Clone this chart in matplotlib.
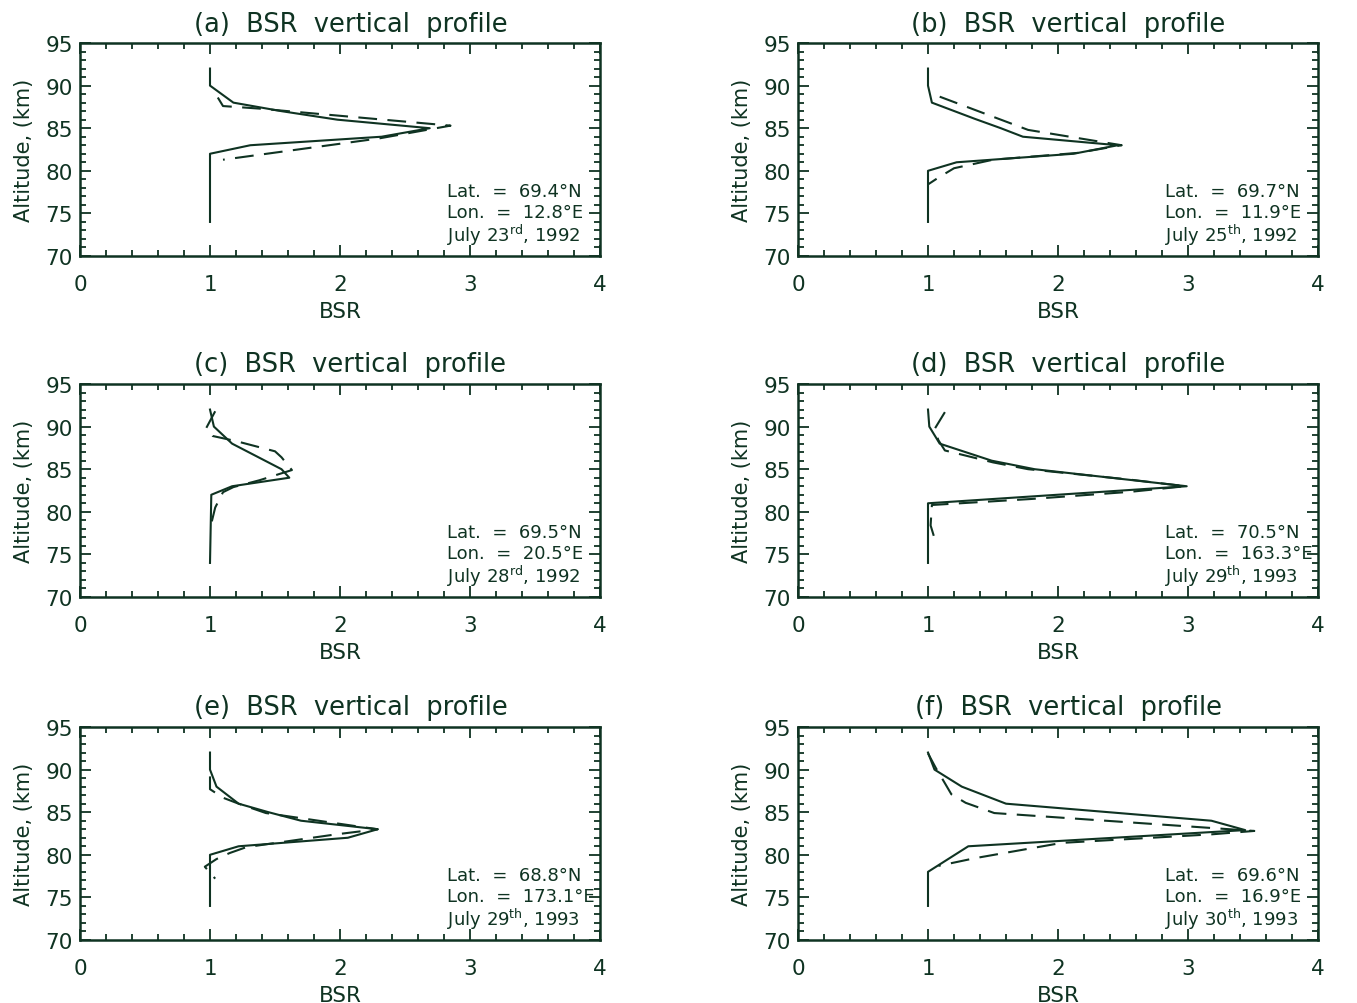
import matplotlib
matplotlib.use("Agg")
import matplotlib.pyplot as plt
from matplotlib.ticker import MultipleLocator

plt.rcParams['font.family'] = ['DejaVu Sans']
plt.rcParams['mathtext.default'] = 'regular'

ink = '#0f3322'

# solid profiles (BSR, altitude km)
alt_a = [92, 90, 88, 87, 86, 85, 84, 83, 82, 74]
bsr_a = [1.0, 1.0, 1.18, 1.55, 1.98, 2.69, 2.32, 1.31, 1.0, 1.0]
alt_b = [92, 90, 88, 86.1, 85, 84, 83, 82, 81, 80, 74]
bsr_b = [1.0, 1.0, 1.03, 1.36, 1.56, 1.73, 2.46, 2.12, 1.22, 1.0, 1.0]
alt_c = [92, 90, 88, 85, 84, 83, 82, 74]
bsr_c = [1.0, 1.03, 1.17, 1.55, 1.61, 1.17, 1.01, 1.0]
alt_d = [92, 90, 88, 86, 85, 83, 81, 74]
bsr_d = [1.0, 1.01, 1.09, 1.49, 1.82, 2.99, 1.0, 1.0]
alt_e = [92, 90, 88, 86, 85, 84, 83, 82, 81, 80, 74]
bsr_e = [1.0, 1.0, 1.05, 1.22, 1.45, 1.70, 2.29, 2.06, 1.22, 1.0, 1.0]
alt_f = [92, 90, 88, 86, 84, 82.9, 81, 78, 74]
bsr_f = [1.0, 1.05, 1.26, 1.60, 3.18, 3.44, 1.31, 1.0, 1.0]

# dashed profiles
dalt_a = [88.6, 87.6, 87.3, 85.3, 83.8, 81.3]
dbsr_a = [1.06, 1.10, 1.38, 2.85, 2.30, 1.10]
dalt_b = [88.7, 84.8, 83.0, 82.1, 81.3, 80.3, 79.2, 78.4]
dbsr_b = [1.09, 1.77, 2.49, 2.15, 1.5, 1.2, 1.08, 1.0]
dalt_c = [91.8, 89.8, 88.9, 88.3, 87.1, 86.4, 84.9, 83.7, 82.9, 82.3, 80.5, 78.0]
dbsr_c = [1.04, 0.97, 1.02, 1.2, 1.5, 1.55, 1.63, 1.38, 1.18, 1.1, 1.04, 1.0]
dalt_d = [91.7, 89.7, 88.4, 87.2, 85.8, 85.0, 83.8, 83.0, 82.35, 81.5, 80.8, 78.4, 76.4]
dbsr_d = [1.13, 1.05, 1.08, 1.13, 1.5, 1.77, 2.54, 2.98, 2.56, 1.79, 1.03, 1.02, 1.06]
dalt_e = [89.2, 87.7, 86.7, 86.0, 84.9, 84.1, 83.3, 83.0, 82.4, 80.9, 80.2, 79.5, 78.6, 77.2]
dbsr_e = [1.0, 1.0, 1.1, 1.22, 1.43, 1.79, 2.15, 2.29, 1.97, 1.28, 1.15, 1.05, 0.96, 1.04]
dalt_f = [91.9, 90.2, 88.4, 87.1, 86.1, 84.9, 82.8, 82.4, 81.4, 79.6, 78.7]
dbsr_f = [1.0, 1.06, 1.13, 1.18, 1.29, 1.51, 3.51, 3.18, 2.03, 1.36, 1.08]

letters = ['a', 'b', 'c', 'd', 'e', 'f']
lats = ['69.4', '69.7', '69.5', '70.5', '68.8', '69.6']
lons = ['12.8', '11.9', '20.5', '163.3', '173.1', '16.9']
dates = ['July 23$^{rd}$, 1992', 'July 25$^{th}$, 1992', 'July 28$^{rd}$, 1992',
         'July 29$^{th}$, 1993', 'July 29$^{th}$, 1993', 'July 30$^{th}$, 1993']

solid = [(bsr_a, alt_a), (bsr_b, alt_b), (bsr_c, alt_c),
         (bsr_d, alt_d), (bsr_e, alt_e), (bsr_f, alt_f)]
dashed = [(dbsr_a, dalt_a), (dbsr_b, dalt_b), (dbsr_c, dalt_c),
          (dbsr_d, dalt_d), (dbsr_e, dalt_e), (dbsr_f, dalt_f)]

W, H = 1357, 1004
fig = plt.figure(figsize=(W / 100, H / 100), dpi=100)

lefts = [80, 798]
tops = [44, 385, 728]
aw, ah = 520, 213

for i in range(6):
    row, col = i // 2, i % 2
    ax = fig.add_axes([lefts[col] / W, 1 - (tops[row] + ah) / H, aw / W, ah / H])
    ax.plot(*solid[i], color=ink, lw=1.5)
    ax.plot(*dashed[i], color=ink, lw=1.5, dashes=(9, 5))
    ax.set_xlim(0, 4)
    ax.set_ylim(70, 95)
    ax.xaxis.set_major_locator(MultipleLocator(1))
    ax.xaxis.set_minor_locator(MultipleLocator(0.2))
    ax.yaxis.set_major_locator(MultipleLocator(5))
    ax.yaxis.set_minor_locator(MultipleLocator(1))
    ax.tick_params(which='both', direction='in', top=True, right=True,
                   color=ink, labelcolor=ink, labelsize=15.5, width=1.3)
    ax.tick_params(which='major', length=8)
    ax.tick_params(which='minor', length=4)
    ax.tick_params(axis='x', pad=13)
    ax.tick_params(axis='y', pad=5)
    for s in ax.spines.values():
        s.set_color(ink)
        s.set_linewidth(1.8)
    ax.set_title('(%s)  BSR  vertical  profile' % letters[i], fontsize=18.5,
                 color=ink, pad=9, x=0.52)
    ax.set_xlabel('BSR', fontsize=15.5, color=ink, labelpad=5)
    ax.set_ylabel('Altitude, (km)', fontsize=15, color=ink, labelpad=8)
    ax.text(0.705, 0.305, 'Lat.  =  %s°N' % lats[i], transform=ax.transAxes,
            fontsize=13, color=ink, va='center')
    ax.text(0.705, 0.205, 'Lon.  =  %s°E' % lons[i], transform=ax.transAxes,
            fontsize=13, color=ink, va='center')
    ax.text(0.705, 0.10, dates[i], transform=ax.transAxes,
            fontsize=13, color=ink, va='center')

fig.savefig('out.png', dpi=100)
